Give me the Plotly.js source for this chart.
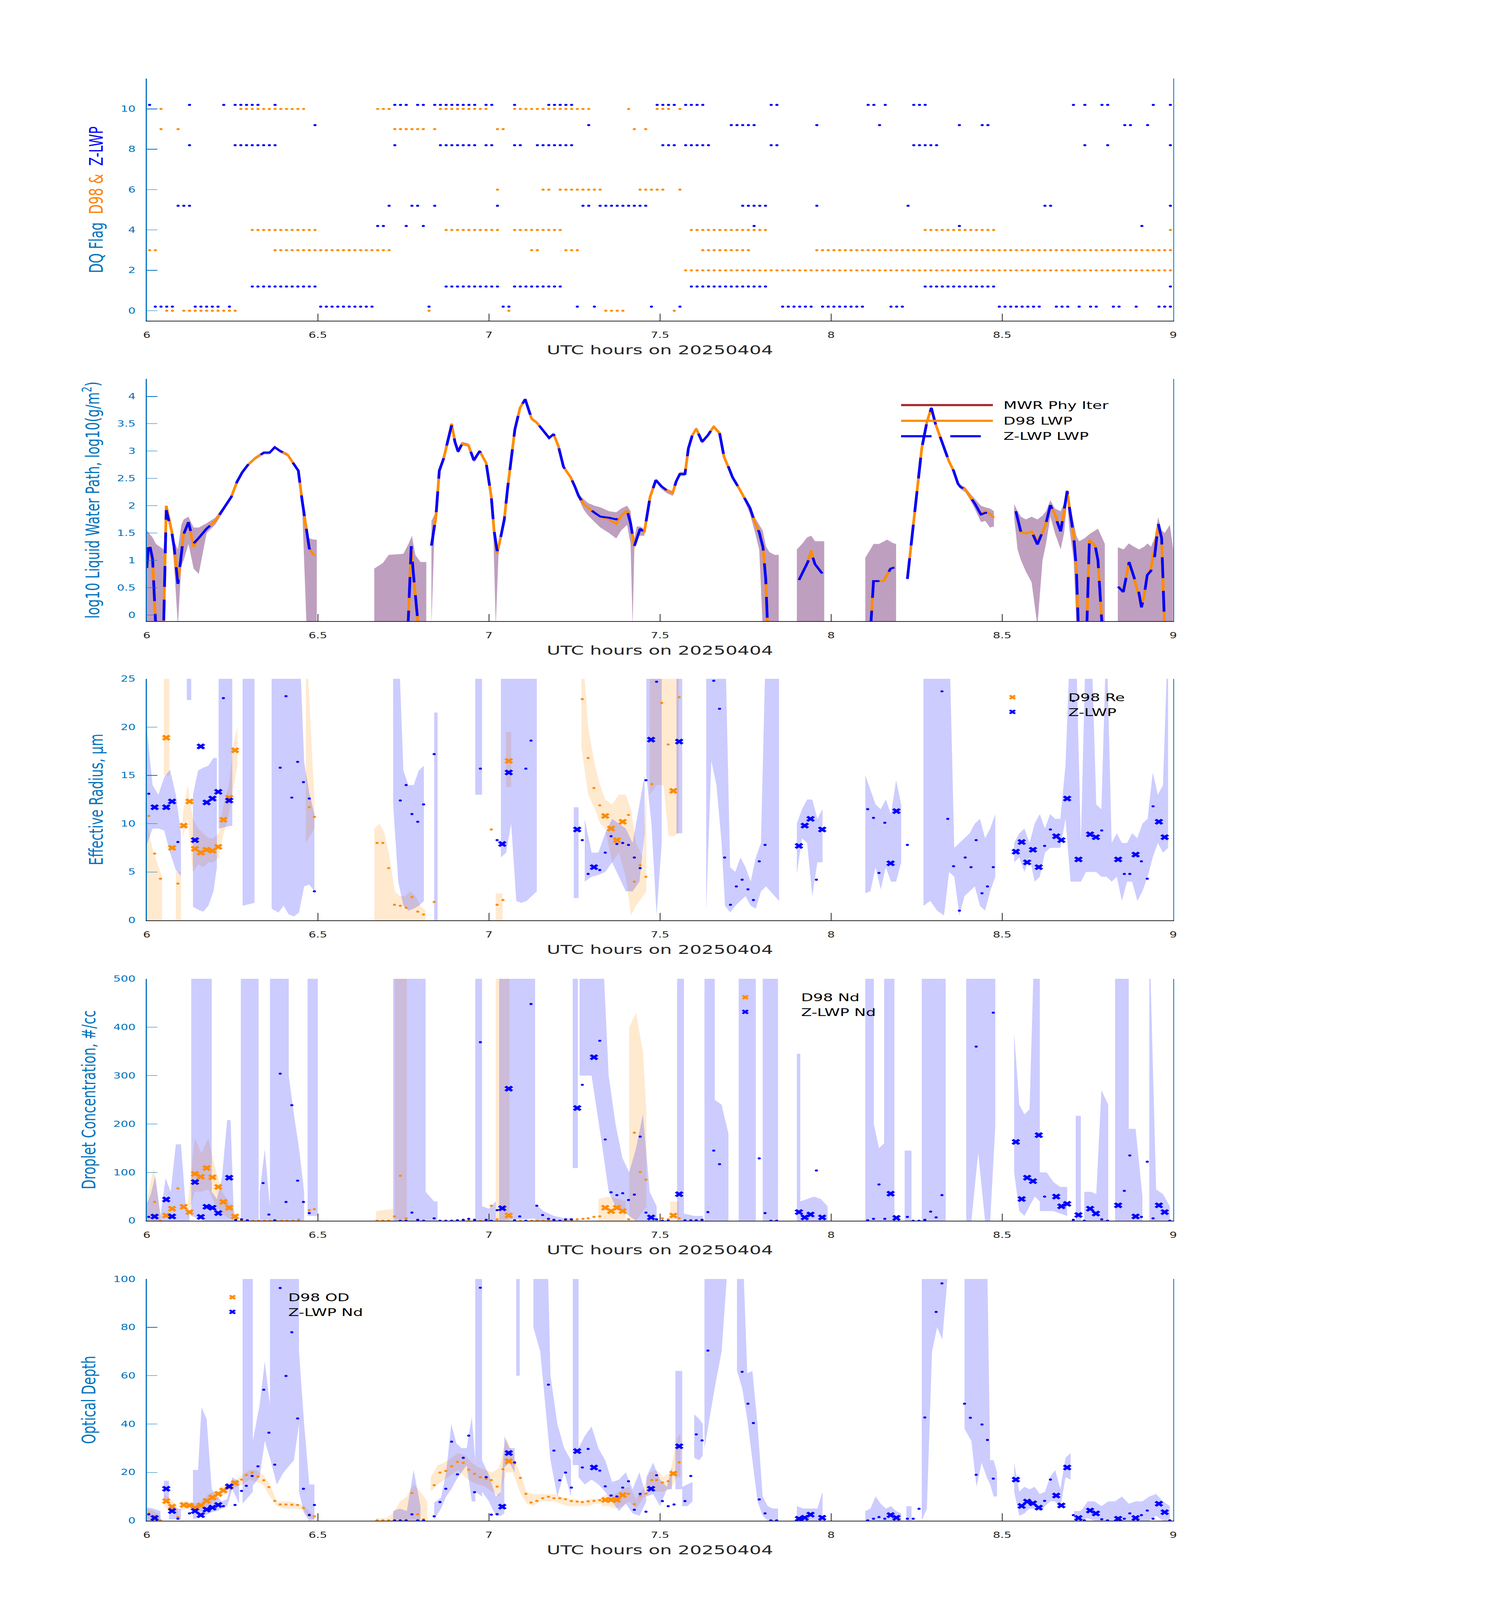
<!DOCTYPE html>
<html>
<head>
<meta charset="utf-8">
<script src="https://cdn.plot.ly/plotly-3.0.1.min.js"></script>
<style>
  html, body { margin: 0; padding: 0; background: #fff; overflow: hidden; }
  #chart { width: 3825px; height: 6000px; transform-origin: 0 0; }
</style>
</head>
<body>
<div id="chart"></div>
<script>
// ---- DQ flags: runs of one-minute samples (minute index after 06:00 UTC) ----
const d98Flag10 = [[2,2],[16,27],[40,42],[51,59],[64,77],[84,84],[89,91],[93,93]];
const d98Flag9  = [[2,2],[5,5],[43,48],[50,50],[61,62],[85,85],[87,87]];
const d98Flag6  = [[61,61],[69,70],[72,79],[86,90],[93,93]];
const d98Flag4  = [[18,29],[52,61],[64,72],[95,108],[136,148],[179,179]];
const d98Flag3  = [[0,1],[22,42],[67,68],[73,75],[97,105],[117,179]];
const d98Flag2  = [[94,179]];
const d98Flag0  = [[3,4],[6,15],[49,49],[63,63],[80,83],[92,92]];

const zFlag10 = [[0,0],[7,7],[13,13],[15,19],[22,22],[43,45],[47,48],[50,57],[59,60],[64,64],[70,74],[89,92],[94,97],[109,110],[126,127],[129,129],[134,136],[162,162],[164,164],[167,168],[176,176],[179,179]];
const zFlag9  = [[29,29],[77,77],[102,106],[117,117],[128,128],[142,142],[146,147],[171,172],[175,175]];
const zFlag8  = [[7,7],[15,22],[43,43],[51,57],[59,60],[64,65],[68,74],[90,92],[94,98],[109,110],[134,138],[164,164],[168,168],[179,179]];
const zFlag5  = [[5,7],[42,42],[46,47],[50,50],[61,61],[76,77],[79,87],[104,108],[117,117],[133,133],[157,158],[179,179]];
const zFlag4  = [[40,41],[45,45],[48,48],[106,106],[142,142],[174,174]];
const zFlag1  = [[18,29],[52,61],[64,72],[95,108],[136,148],[179,179]];
const zFlag0  = [[1,4],[8,12],[14,14],[30,39],[49,49],[62,63],[75,75],[78,78],[88,88],[93,93],[111,116],[118,125],[130,132],[149,156],[159,161],[163,163],[165,166],[169,170],[173,173],[177,178],[179,179]];

// ---- LWP, log10(g/m2): rows [hour, D98, Z-LWP]; null = gap ----
const lwpRows = [
  [6.0,0.86,0.86],[6.006,1.25,1.36],[6.017,1.03,1.03],[6.027,-0.3,-0.3],[6.049,-0.3,-0.3],[6.057,2.0,1.92],[6.074,1.5,1.48],[6.08,1.24,1.24],[6.091,0.57,0.57],[6.101,1.1,1.1],[6.108,1.5,1.48],[6.122,1.7,1.7],[6.137,1.25,1.31],[6.152,1.41,1.41],[6.175,1.58,1.58],[6.2,1.72,1.72],[6.222,1.92,1.92],[6.247,2.16,2.16],[6.264,2.44,2.44],[6.279,2.61,2.61],[6.296,2.75,2.75],[6.317,2.87,2.87],[6.342,2.97,2.97],[6.359,2.97,2.97],[6.374,3.07,3.07],[6.39,3.0,3.0],[6.412,2.93,2.93],[6.433,2.73,2.73],[6.443,2.64,2.64],[6.454,2.1,2.1],[6.467,1.51,1.51],[6.475,1.22,1.22],[6.49,1.08,1.1],
  null,
  [6.763,-0.3,-0.3],[6.773,1.26,1.26],[6.78,0.7,0.7],[6.795,-0.3,-0.3],
  null,
  [6.832,1.27,1.27],[6.845,1.79,1.79],[6.855,2.64,2.64],[6.868,2.87,2.87],[6.88,3.19,3.19],[6.891,3.5,3.47],[6.901,3.16,3.16],[6.91,2.99,2.99],[6.922,3.14,3.14],[6.94,3.11,3.11],[6.956,2.83,2.83],[6.973,3.0,3.0],[6.992,2.78,2.78],[7.007,2.16,2.16],[7.015,1.55,1.55],[7.024,1.13,1.17],[7.034,1.41,1.41],[7.045,1.75,1.75],[7.055,2.34,2.34],[7.066,2.95,2.95],[7.076,3.4,3.4],[7.091,3.79,3.79],[7.106,3.95,3.95],[7.117,3.74,3.74],[7.125,3.59,3.59],[7.14,3.52,3.52],[7.155,3.4,3.4],[7.176,3.24,3.24],[7.189,3.31,3.31],[7.203,3.09,3.09],[7.218,2.71,2.71],[7.239,2.52,2.52],[7.252,2.34,2.34],[7.262,2.18,2.18],[7.277,2.03,2.03],[7.29,1.96,1.96],[7.309,1.87,1.87],[7.326,1.8,1.8],[7.351,1.75,1.78],[7.372,1.67,1.75],[7.387,1.82,1.82],[7.404,1.91,1.91],[7.414,1.68,1.68],[7.425,1.26,1.26],[7.442,1.58,1.58],[7.454,1.51,1.51],[7.471,2.16,2.16],[7.488,2.47,2.47],[7.505,2.35,2.35],[7.52,2.28,2.28],[7.537,2.23,2.23],[7.547,2.44,2.44],[7.558,2.58,2.58],[7.573,2.58,2.58],[7.583,3.05,3.05],[7.594,3.28,3.28],[7.606,3.41,3.41],[7.623,3.17,3.17],[7.64,3.29,3.29],[7.657,3.45,3.45],[7.674,3.33,3.33],[7.687,2.9,2.9],[7.699,2.73,2.73],[7.712,2.52,2.52],[7.731,2.32,2.32],[7.746,2.15,2.15],[7.763,1.96,1.96],[7.776,1.72,1.72],[7.79,1.51,1.51],[7.801,1.24,1.24],[7.809,0.66,0.66],[7.815,-0.3,-0.3],
  null,
  [7.906,0.64,0.64],[7.921,0.83,0.83],[7.932,0.97,0.97],[7.942,1.18,1.14],[7.953,0.93,0.93],[7.963,0.85,0.85],[7.974,0.76,0.76],
  null,
  [8.115,-0.3,-0.3],[8.124,0.62,0.62],[8.153,0.62,0.62],[8.164,0.74,0.74],[8.174,0.85,0.85],[8.185,0.87,0.87],
  null,
  [8.223,0.66,0.66],[8.233,1.24,1.24],[8.244,1.89,1.89],[8.255,2.51,2.51],[8.265,3.05,3.05],[8.28,3.53,3.53],[8.293,3.79,3.79],[8.305,3.5,3.5],[8.32,3.23,3.23],[8.333,2.99,2.99],[8.344,2.82,2.82],[8.358,2.64,2.64],[8.371,2.4,2.4],[8.379,2.34,2.34],[8.392,2.3,2.3],[8.407,2.16,2.16],[8.421,2.03,2.03],[8.438,1.84,1.84],[8.451,1.9,1.87],[8.464,1.85,1.87],[8.476,1.78,1.79],
  null,
  [8.54,1.9,1.9],[8.555,1.52,1.51],[8.569,1.49,1.48],[8.586,1.53,1.53],[8.603,1.35,1.29],[8.618,1.51,1.51],[8.628,1.68,1.68],[8.641,2.0,2.01],[8.654,1.85,1.82],[8.671,1.55,1.53],[8.681,1.89,1.89],[8.69,2.27,2.27],[8.696,2.0,1.99],[8.709,1.45,1.45],[8.717,0.83,0.83],[8.723,-0.3,-0.3],
  null,
  [8.747,-0.3,-0.3],[8.755,1.38,1.38],[8.772,1.26,1.26],[8.78,1.0,1.0],[8.793,-0.3,-0.3],
  null,
  [8.839,0.52,0.52],[8.854,0.42,0.42],[8.871,0.98,0.97],[8.886,0.65,0.69],[8.899,0.38,0.43],[8.907,0.2,0.14],[8.914,0.32,0.32],[8.924,0.73,0.73],[8.935,0.85,0.81],[8.945,1.2,1.03],[8.956,1.62,1.67],[8.966,1.41,1.41],[8.975,-0.3,-0.3]
];

// LWP uncertainty envelope: rows [hour, low, high]
const lwpBand = [
  [6.0,-0.2,1.55],[6.006,-0.2,1.5],[6.017,-0.2,1.42],[6.027,-0.2,1.3],[6.049,-0.2,1.2],[6.057,1.85,2.0],[6.074,1.4,1.6],[6.08,0.9,1.35],[6.091,-0.2,1.2],[6.101,0.9,1.65],[6.108,1.0,1.75],[6.122,1.3,1.8],[6.137,0.85,1.6],[6.152,0.75,1.6],[6.175,1.5,1.68],[6.2,1.65,1.78],[6.222,1.87,1.96],[6.247,2.12,2.2],[6.264,2.4,2.47],[6.279,2.58,2.64],[6.296,2.72,2.78],[6.317,2.84,2.9],[6.342,2.94,3.0],[6.359,2.94,3.0],[6.374,3.04,3.1],[6.39,2.97,3.03],[6.412,2.9,2.96],[6.433,2.7,2.76],[6.443,2.6,2.67],[6.454,2.0,2.2],[6.467,-0.2,1.55],[6.475,-0.2,1.4],[6.49,-0.2,1.38],[6.497,-0.2,1.38],
  null,
  [6.665,-0.2,0.85],[6.69,-0.2,0.95],[6.707,-0.2,1.1],[6.75,-0.2,1.12],[6.765,-0.2,1.3],[6.775,-0.2,1.45],[6.785,-0.2,1.1],[6.8,-0.2,0.97],[6.817,-0.2,0.97],
  null,
  [6.832,-0.2,1.72],[6.842,1.72,1.85],[6.855,2.6,2.68],[6.88,3.16,3.22],[6.891,3.47,3.53],[6.901,3.12,3.2],[6.91,2.95,3.03],[6.922,3.1,3.17],[6.94,3.08,3.14],[6.956,2.79,2.87],[6.973,2.97,3.03],[6.992,2.74,2.82],[7.007,2.1,2.2],[7.013,1.45,1.6],[7.02,-0.2,1.3],[7.028,1.1,1.25],[7.034,1.37,1.45],[7.045,1.7,1.8],[7.055,2.3,2.38],[7.066,2.91,2.98],[7.076,3.37,3.43],[7.091,3.76,3.82],[7.106,3.92,3.97],[7.117,3.71,3.77],[7.125,3.56,3.62],[7.14,3.49,3.55],[7.155,3.37,3.43],[7.176,3.21,3.27],[7.189,3.28,3.34],[7.203,3.06,3.12],[7.218,2.68,2.74],[7.239,2.48,2.55],[7.252,2.3,2.37],[7.262,2.13,2.22],[7.277,1.93,2.12],[7.29,1.82,2.05],[7.309,1.7,2.0],[7.326,1.6,1.97],[7.351,1.5,1.9],[7.372,1.4,1.88],[7.387,1.55,1.95],[7.404,1.65,2.0],[7.414,1.3,1.9],[7.42,-0.2,1.55],[7.425,1.2,1.4],[7.432,1.45,1.62],[7.442,1.45,1.62],[7.454,1.45,1.58],[7.471,2.1,2.2],[7.488,2.43,2.5],[7.505,2.3,2.38],[7.52,2.23,2.31],[7.537,2.18,2.27],[7.547,2.4,2.48],[7.558,2.54,2.62],[7.573,2.54,2.62],[7.583,3.0,3.08],[7.594,3.24,3.31],[7.606,3.37,3.44],[7.623,3.13,3.2],[7.64,3.25,3.32],[7.657,3.41,3.48],[7.674,3.29,3.36],[7.687,2.86,2.93],[7.699,2.69,2.76],[7.712,2.48,2.55],[7.731,2.28,2.35],[7.746,2.1,2.18],[7.763,1.85,2.0],[7.776,1.55,1.8],[7.79,1.2,1.65],[7.8,-0.2,1.55],[7.81,-0.2,1.25],[7.82,-0.2,1.15],[7.835,-0.2,1.1],[7.847,-0.2,1.1],
  null,
  [7.9,-0.2,1.2],[7.915,-0.2,1.3],[7.93,-0.2,1.42],[7.942,-0.2,1.45],[7.953,-0.2,1.35],[7.965,-0.2,1.35],[7.98,-0.2,1.35],
  null,
  [8.1,-0.2,1.05],[8.115,-0.2,1.2],[8.124,-0.2,1.3],[8.14,-0.2,1.3],[8.164,-0.2,1.38],[8.18,-0.2,1.32],[8.19,-0.2,1.3],
  null,
  [8.223,0.6,0.72],[8.233,1.2,1.28],[8.244,1.85,1.93],[8.255,2.47,2.55],[8.265,3.01,3.09],[8.28,3.49,3.57],[8.293,3.75,3.82],[8.305,3.46,3.54],[8.32,3.19,3.27],[8.333,2.95,3.03],[8.344,2.78,2.86],[8.358,2.6,2.68],[8.371,2.36,2.44],[8.379,2.3,2.38],[8.392,2.25,2.34],[8.407,2.1,2.22],[8.421,1.93,2.12],[8.438,1.7,2.0],[8.451,1.72,1.97],[8.464,1.6,1.95],[8.476,1.62,1.9],
  null,
  [8.535,1.8,2.03],[8.545,1.2,1.9],[8.555,1.0,1.8],[8.569,0.8,1.75],[8.586,0.6,1.8],[8.603,-0.2,1.75],[8.618,1.0,1.82],[8.628,1.3,1.9],[8.641,1.8,2.1],[8.654,1.5,1.95],[8.671,1.2,1.9],[8.681,1.5,2.05],[8.69,2.1,2.3],[8.696,1.6,2.1],[8.709,1.0,1.7],[8.717,-0.2,1.45],[8.725,-0.2,1.35],[8.74,-0.2,1.4],[8.755,-0.2,1.48],[8.772,-0.2,1.55],[8.78,-0.2,1.58],[8.793,-0.2,1.4],[8.8,-0.2,1.3],
  null,
  [8.838,-0.2,1.24],[8.855,-0.2,1.2],[8.87,-0.2,1.31],[8.885,-0.2,1.25],[8.9,-0.2,1.2],[8.915,-0.2,1.25],[8.925,-0.2,1.31],[8.935,-0.2,1.25],[8.945,-0.2,1.4],[8.956,-0.2,1.79],[8.966,-0.2,1.55],[8.975,-0.2,1.5],[8.99,-0.2,1.65],[9.0,-0.2,1.2]
];

// ---- Retrievals flagged good (x markers): times shared by Re, Nd, OD ----
const zGoodT = [6.023,6.057,6.074,6.141,6.158,6.175,6.192,6.209,6.241,7.039,7.058,7.258,7.307,7.474,7.556,7.906,7.923,7.94,7.974,8.174,8.191,8.54,8.557,8.573,8.59,8.607,8.658,8.673,8.69,8.723,8.757,8.774,8.839,8.89,8.958,8.975];
const zGoodRe = [11.7,11.7,12.3,8.3,18.0,12.2,12.6,13.3,12.4,7.9,15.3,9.4,5.5,18.7,18.5,7.7,9.8,10.5,9.4,5.9,11.3,7.1,8.1,6.0,7.3,5.5,8.7,8.3,12.6,6.3,8.9,8.6,6.3,6.8,10.2,8.6];
const zGoodNd = [8.8,44,9,80,8,29,27,16,89,26,273,233,338,7,55,18,7,13,7,56,6,163,45,89,82,177,50,30,35,12,25,15,32,9,32,18];
const zGoodOd = [1.1,13.2,4.0,4.0,2.3,4.6,5.4,6.5,14.2,5.8,28.0,28.8,22.0,13.2,30.8,0.8,1.2,2.5,1.2,2.3,1.2,17.0,6.1,7.9,7.2,5.4,10.4,6.3,22.0,1.1,4.2,3.0,0.8,1.1,7.0,3.5];

const d98GoodT = [6.057,6.074,6.108,6.125,6.141,6.158,6.175,6.192,6.209,6.224,6.241,6.258,7.058,7.34,7.357,7.374,7.391,7.539];
const d98GoodRe = [18.9,7.5,9.8,12.3,7.4,7.0,7.3,7.2,7.6,10.4,12.7,17.6,16.5,10.8,9.5,8.3,10.2,13.4];
const d98GoodNd = [11,25,29,18,97,91,109,90,70,39,27,9,11,27,20,27,20,11];
const d98GoodOd = [8.1,5.8,6.5,6.3,5.4,6.3,8.2,9.6,11.1,12.5,13.9,15.6,24.6,8.6,8.6,8.6,10.6,19.5];

// ---- All other retrievals (small dots): rows [hour, value] ----
const reZDots = [[6.006,13.1],[6.091,8.1],[6.224,23.0],[6.39,15.8],[6.407,23.2],[6.424,12.7],[6.441,16.4],[6.458,14.3],[6.475,12.6],[6.49,3.0],[6.741,12.4],[6.758,14.0],[6.775,11.0],[6.792,10.2],[6.809,12.0],[6.84,17.2],[6.975,15.7],[7.024,8.3],[7.108,15.7],[7.123,18.6],[7.273,8.3],[7.29,4.8],[7.324,5.2],[7.34,7.0],[7.357,8.7],[7.374,7.9],[7.391,8.0],[7.408,7.8],[7.425,6.5],[7.442,5.4],[7.459,14.5],[7.49,24.7],[7.657,24.8],[7.674,21.9],[7.689,6.5],[7.706,1.6],[7.723,3.5],[7.74,4.2],[7.757,3.2],[7.773,2.1],[7.79,6.1],[7.807,7.8],[7.957,4.2],[8.107,11.5],[8.124,10.6],[8.14,4.9],[8.157,10.1],[8.223,7.8],[8.324,23.7],[8.341,10.5],[8.358,5.6],[8.375,1.0],[8.392,6.5],[8.409,5.5],[8.424,8.3],[8.441,2.8],[8.457,3.5],[8.474,5.5],[8.624,7.7],[8.641,9.4],[8.708,22.7],[8.791,9.3],[8.857,4.8],[8.873,4.8],[8.907,6.1],[8.924,4.3],[8.941,11.8]];
const reDDots = [[6.006,10.8],[6.023,6.9],[6.04,4.3],[6.091,3.8],[6.475,11.7],[6.49,10.7],[6.673,8.0],[6.69,8.0],[6.707,5.4],[6.724,1.6],[6.741,1.5],[6.758,1.3],[6.775,2.4],[6.792,0.9],[6.809,0.6],[6.84,1.9],[7.007,9.4],[7.024,1.6],[7.041,2.1],[7.273,22.9],[7.29,16.8],[7.307,13.7],[7.324,11.9],[7.408,10.9],[7.425,4.0],[7.442,5.7],[7.459,4.5],[7.476,14.1],[7.505,22.5],[7.524,18.2],[7.556,23.1]];

const ndZDots = [[6.006,8],[6.26,2],[6.277,3],[6.294,1],[6.34,78],[6.357,13],[6.374,1],[6.39,304],[6.407,39],[6.424,239],[6.441,83],[6.458,39],[6.475,16],[6.741,0],[6.758,0],[6.775,17],[6.792,2],[6.809,0],[6.84,5],[6.857,0],[6.874,0],[6.891,0],[6.908,1],[6.925,2],[6.941,4],[6.958,2],[6.975,369],[6.992,2],[7.007,0],[7.024,22],[7.075,1],[7.09,9],[7.108,0],[7.123,448],[7.14,31],[7.157,12],[7.174,4],[7.19,2],[7.207,0],[7.224,3],[7.241,3],[7.273,281],[7.324,372],[7.34,168],[7.357,59],[7.374,53],[7.391,57],[7.408,43],[7.425,54],[7.442,174],[7.459,17],[7.49,3],[7.507,0],[7.524,0],[7.573,1],[7.59,1],[7.606,1],[7.623,2],[7.64,18],[7.657,145],[7.674,117],[7.79,129],[7.807,16],[7.824,0],[7.841,0],[7.957,104],[8.107,1],[8.124,4],[8.14,75],[8.157,4],[8.223,8],[8.24,0],[8.257,0],[8.274,2],[8.291,19],[8.307,7],[8.324,53],[8.424,360],[8.474,430],[8.624,50],[8.708,2],[8.74,0],[8.791,3],[8.808,0],[8.857,62],[8.873,135],[8.907,8],[8.924,122],[8.941,5],[8.99,0]];
const ndDDots = [[6.023,39],[6.04,0],[6.091,67],[6.277,0],[6.294,0],[6.31,0],[6.327,0],[6.344,0],[6.36,0],[6.377,0],[6.394,0],[6.41,0],[6.427,0],[6.444,2],[6.475,22],[6.49,24],[6.673,0],[6.69,0],[6.707,0],[6.724,9],[6.741,93],[6.758,5],[6.857,0],[6.874,0],[6.891,0],[6.908,0],[6.925,0],[6.941,0],[6.958,0],[6.975,0],[6.992,0],[7.007,31],[7.024,3],[7.092,0],[7.108,0],[7.125,0],[7.142,0],[7.159,0],[7.175,0],[7.192,0],[7.209,0],[7.225,0],[7.242,2],[7.258,3],[7.275,4],[7.29,5],[7.307,8],[7.324,9],[7.408,3],[7.425,182],[7.442,101],[7.459,85],[7.507,5],[7.524,3],[7.556,5]];

const odZDots = [[6.006,2.6],[6.091,0.8],[6.125,3.0],[6.224,6.0],[6.258,6.5],[6.277,12.3],[6.291,14.4],[6.308,18.5],[6.325,22.5],[6.342,54.2],[6.357,36.4],[6.374,23.2],[6.39,96.3],[6.407,59.9],[6.424,78.0],[6.441,42.3],[6.458,13.2],[6.475,2.3],[6.49,6.5],[6.724,0.1],[6.741,0.1],[6.758,0.1],[6.775,2.6],[6.792,0.1],[6.809,0.1],[6.84,1.8],[6.857,7.7],[6.874,13.2],[6.891,32.7],[6.908,19.2],[6.925,26.0],[6.941,35.2],[6.958,11.8],[6.975,96.4],[6.992,18.0],[7.007,2.5],[7.024,2.7],[7.075,24.1],[7.174,56.3],[7.19,29.0],[7.207,16.7],[7.224,19.9],[7.241,13.7],[7.273,22.0],[7.29,29.7],[7.324,20.7],[7.34,14.2],[7.357,10.4],[7.374,10.0],[7.391,13.7],[7.408,16.3],[7.425,4.5],[7.442,11.1],[7.459,3.7],[7.49,18.8],[7.507,8.1],[7.524,6.0],[7.541,6.7],[7.573,8.1],[7.59,18.5],[7.606,35.7],[7.623,33.2],[7.64,70.4],[7.74,61.6],[7.757,48.4],[7.773,40.4],[7.79,8.8],[7.807,3.0],[7.824,0.1],[7.841,0.1],[8.107,0.1],[8.124,0.8],[8.14,1.5],[8.157,0.8],[8.223,0.8],[8.24,0.8],[8.257,4.9],[8.274,42.7],[8.307,86.4],[8.324,98.2],[8.39,48.4],[8.407,42.6],[8.424,19.0],[8.441,39.8],[8.457,33.4],[8.474,17.4],[8.624,8.2],[8.641,17.0],[8.708,2.3],[8.74,0.1],[8.791,0.6],[8.808,0.1],[8.857,0.8],[8.873,3.0],[8.907,2.3],[8.924,4.2],[8.941,0.8],[8.99,0.1]];
const odDDots = [[6.006,3.0],[6.023,1.9],[6.04,0.1],[6.091,1.5],[6.277,17.0],[6.291,18.9],[6.308,19.9],[6.325,18.2],[6.342,16.7],[6.357,13.9],[6.374,8.2],[6.39,6.7],[6.407,6.7],[6.424,6.6],[6.441,6.5],[6.458,5.3],[6.475,2.6],[6.49,1.8],[6.673,0.1],[6.69,0.1],[6.707,0.1],[6.724,0.1],[6.741,0.1],[6.758,0.1],[6.775,11.4],[6.792,2.6],[6.809,0.5],[6.84,14.7],[6.857,19.9],[6.874,20.6],[6.891,22.5],[6.908,24.3],[6.925,23.9],[6.941,21.1],[6.958,19.4],[6.975,18.0],[6.992,17.3],[7.007,16.8],[7.024,14.1],[7.041,21.3],[7.075,23.7],[7.092,17.7],[7.108,11.1],[7.123,7.5],[7.14,8.2],[7.157,9.3],[7.174,9.9],[7.19,9.3],[7.207,9.3],[7.224,8.9],[7.241,8.1],[7.258,7.9],[7.273,7.7],[7.29,8.0],[7.307,8.2],[7.324,8.5],[7.408,11.1],[7.425,6.8],[7.442,10.4],[7.459,11.2],[7.476,16.8],[7.49,16.8],[7.507,15.8],[7.524,16.3],[7.556,24.1]];

// ---- Uncertainty envelopes: rows [hour, low, high]; values above the axis top run off scale ----
const reZBand = [
  [6.0,7.8,20],[6.017,9.5,14],[6.034,9.5,13],[6.051,9.3,14.8],[6.068,7.0,15.6],[6.085,5.2,13.0],[6.1,4.6,9.0], null,
  [6.117,22.8,30],[6.13,22.8,30], null,
  [6.135,1.4,13.0],[6.15,1.1,15.5],[6.165,0.9,15.8],[6.18,1.5,16.0],[6.195,3.0,16.8],[6.205,5.5,16.8], null,
  [6.21,9.5,30],[6.25,9.8,30], null,
  [6.28,1.5,30],[6.315,1.8,30], null,
  [6.365,1.2,30],[6.385,0.8,30],[6.4,1.5,30],[6.415,0.6,30],[6.43,0.4,30],[6.445,0.8,30],[6.46,3.5,16.4],[6.475,3.7,13.2],[6.49,3.0,11.0], null,
  [6.72,12.0,30],[6.735,4.0,30],[6.75,1.5,15.5],[6.765,1.0,14.0],[6.78,1.2,14.0],[6.795,1.5,15.5],[6.81,2.0,16.0], null,
  [6.84,0,21.5],[6.85,0,21.5], null,
  [6.96,13.0,30],[6.98,13.0,30], null,
  [7.035,6.5,30],[7.05,7.0,30],[7.065,10.0,30],[7.08,2.0,30],[7.095,1.8,30],[7.11,2.0,30],[7.125,2.5,30],[7.14,3.0,30], null,
  [7.248,2.3,11.7],[7.262,2.3,11.7], null,
  [7.28,4.0,10.5],[7.3,4.5,7.0],[7.32,4.7,7.0],[7.34,5.0,9.0],[7.36,6.0,10.5],[7.38,4.5,10.0],[7.4,3.0,9.5],[7.42,3.0,8.0],[7.44,4.0,12.0],[7.455,9.0,15.0], null,
  [7.46,15,30],[7.475,10,30],[7.49,0.5,30],[7.505,8,30], null,
  [7.548,9.0,30],[7.565,9.0,30], null,
  [7.635,1.0,30],[7.65,16.5,30],[7.665,14,30],[7.68,8,30],[7.69,1.5,30],[7.705,0.8,5.5],[7.72,1.5,5.0],[7.735,2.0,6.5],[7.75,2.5,5.5],[7.765,1.5,4.0],[7.78,1.2,6.5],[7.795,3.0,8.0],[7.81,3.5,30],[7.848,2.0,30], null,
  [7.9,4.8,10.0],[7.915,8.5,11.5],[7.93,8.0,12.5],[7.945,2.5,12.5],[7.96,6.0,10.5],[7.975,6.0,11.5], null,
  [8.1,2.8,15.0],[8.115,3.0,13.5],[8.13,5.5,12.0],[8.145,3.2,11.5],[8.16,5.5,12.5],[8.175,4.0,11.0],[8.19,4.0,14.5],[8.205,6.0,12.0], null,
  [8.27,1.5,30],[8.29,2.0,30],[8.31,1.0,30],[8.33,0.5,30],[8.345,5.0,30],[8.36,4.5,7.5],[8.375,0.5,8.0],[8.39,2.5,8.5],[8.405,3.0,9.0],[8.42,3.5,10.0],[8.435,1.5,10.5],[8.45,1.0,8.5],[8.465,3.0,9.5],[8.48,4.5,11.0], null,
  [8.535,6.0,8.0],[8.55,6.5,9.0],[8.565,5.0,9.5],[8.58,6.5,8.0],[8.595,4.0,10.0],[8.61,4.5,11.0],[8.625,7.0,9.5],[8.64,7.5,11.0],[8.655,7.5,10.5],[8.67,7.5,10.5],[8.685,10.5,16.0],[8.7,4.0,30],[8.715,4.0,30],[8.73,4.0,8.0],[8.745,5.0,30],[8.76,5.0,30],[8.775,5.0,12.0],[8.79,4.5,11.5],[8.805,4.5,30],[8.82,4.0,8.0],[8.835,4.5,9.0],[8.85,2.0,8.0],[8.865,4.0,8.0],[8.88,4.0,9.0],[8.895,2.0,8.5],[8.91,3.0,10.0],[8.925,4.5,10.5],[8.94,6.5,15.3],[8.955,8.0,13.0],[8.97,7.0,14.0],[8.985,7.5,30]
];
const reDBand = [
  [6.0,0,10.5],[6.01,0,8.5],[6.02,0,7.0],[6.035,0,5.5],[6.045,0,4.5], null,
  [6.05,15,30],[6.066,15,30], null,
  [6.085,0,5.0],[6.1,0,5.0], null,
  [6.105,8.5,11.0],[6.12,10.5,14.0],[6.135,5.0,10.5],[6.15,5.8,9.5],[6.165,5.5,9.0],[6.18,6.0,8.5],[6.195,6.0,8.5],[6.21,6.5,9.0],[6.225,9.0,12.0],[6.24,11.0,14.0],[6.255,14.0,18.5],[6.265,16.0,20.0], null,
  [6.465,8.0,30],[6.49,9.5,12.5], null,
  [6.665,0,9.5],[6.68,0,10.0],[6.695,0,9.0],[6.71,0,6.5],[6.725,0,3.0],[6.74,0,2.5],[6.755,0,2.5],[6.77,0,3.0],[6.785,0,2.5],[6.8,0,1.5],[6.815,0,1.0], null,
  [7.02,0,2.8],[7.04,0,2.8], null,
  [7.05,13.8,19.5],[7.065,13.8,19.5], null,
  [7.27,18,30],[7.29,13,20],[7.31,11.5,16],[7.325,10,14],[7.34,9.5,12.5],[7.36,6,12],[7.38,7,13],[7.4,4.5,13],[7.415,0.5,11.5],[7.43,1.5,8],[7.45,2.5,6.5],[7.46,3,14], null,
  [7.47,13,30],[7.49,14,30],[7.51,14,30],[7.525,8.7,30],[7.54,8.7,30],[7.555,9,30]
];
const ndZBand = [
  [6.0,0,35],[6.012,0,55],[6.025,0,93],[6.04,0,10],[6.055,0,88],[6.07,0,60],[6.085,0,158],[6.1,0,158],[6.115,0,20],[6.125,0,15], null,
  [6.13,10,600],[6.15,5,600],[6.17,0,600],[6.19,0,600], null,
  [6.19,0,60],[6.205,0,45],[6.22,0,90],[6.235,0,208],[6.245,0,208],[6.255,0,10], null,
  [6.275,0,600],[6.327,0,600], null,
  [6.33,0,60],[6.345,0,148],[6.36,0,30], null,
  [6.36,0,600],[6.415,0,600], null,
  [6.415,0,300],[6.43,0,220],[6.445,0,150],[6.46,0,60], null,
  [6.47,10,600],[6.5,10,600], null,
  [6.72,0,600],[6.815,0,600], null,
  [6.815,0,60],[6.84,0,40],[6.85,0,40], null,
  [6.96,0,600],[6.98,0,600], null,
  [6.98,0,30],[7.0,0,25],[7.02,0,40], null,
  [7.03,0,600],[7.135,5,600], null,
  [7.135,0,35],[7.16,0,20],[7.19,0,10],[7.22,0,5],[7.245,0,5], null,
  [7.245,109,600],[7.26,109,600], null,
  [7.265,300,600],[7.3,300,600],[7.33,160,600], null,
  [7.33,160,600],[7.35,60,300],[7.37,30,200],[7.39,20,130],[7.41,10,100],[7.43,0,150],[7.45,0,220],[7.47,0,60],[7.49,0,30], null,
  [7.55,0,600],[7.57,0,600], null,
  [7.57,0,15],[7.6,0,10],[7.625,0,10], null,
  [7.63,0,600],[7.66,0,600], null,
  [7.66,0,250],[7.68,0,240],[7.7,0,180], null,
  [7.73,0,600],[7.78,0,600], null,
  [7.8,0,600],[7.845,0,600], null,
  [7.9,0,345],[7.91,0,345], null,
  [7.91,0,40],[7.93,0,45],[7.95,0,50],[7.97,0,45],[7.99,0,30], null,
  [8.1,0,600],[8.125,0,600], null,
  [8.125,0,200],[8.14,0,150],[8.155,0,160], null,
  [8.155,0,600],[8.185,0,600], null,
  [8.215,0,145],[8.235,0,145], null,
  [8.265,0,600],[8.335,0,600], null,
  [8.395,0,600],[8.41,0,600],[8.43,140,600],[8.45,0,600],[8.465,0,600],[8.48,197,600], null,
  [8.535,100,388],[8.55,20,240],[8.565,10,220],[8.58,30,230],[8.595,50,600],[8.61,40,600], null,
  [8.61,20,100],[8.63,20,100],[8.65,20,80],[8.67,15,70],[8.69,10,70], null,
  [8.715,0,217],[8.73,0,217], null,
  [8.74,0,60],[8.76,0,60],[8.775,0,55],[8.79,0,270],[8.81,0,240], null,
  [8.83,0,600],[8.87,0,600], null,
  [8.87,0,190],[8.89,0,190],[8.91,0,50], null,
  [8.93,0,600],[8.95,0,65],[8.97,0,55],[8.99,0,30]
];
const ndDBand = [
  [6.0,0,40],[6.02,0,110],[6.04,0,15], null,
  [6.12,5,35],[6.14,60,170],[6.16,60,140],[6.18,65,170],[6.2,35,110],[6.22,15,60],[6.24,5,40],[6.26,0,15], null,
  [6.67,0,20],[6.72,0,25], null,
  [6.725,0,600],[6.76,0,600], null,
  [7.02,0,600],[7.06,0,600], null,
  [7.32,0,45],[7.35,0,50],[7.38,0,45],[7.4,0,40], null,
  [7.41,0,400],[7.43,0,430],[7.45,20,350],[7.46,30,230], null,
  [7.53,0,40],[7.555,0,40]
];
const odZBand = [
  [6.0,0,5.5],[6.02,0,5.0],[6.04,0,4.0], null,
  [6.05,8,16.5],[6.065,8,16.5], null,
  [6.065,0.5,6],[6.085,0.5,5],[6.1,0.5,5], null,
  [6.135,0.8,21],[6.15,1.0,21],[6.16,1.5,47],[6.175,2.5,42],[6.19,3.5,13],[6.205,4.0,10],[6.22,5.0,8],[6.235,6.0,9],[6.25,13.0,18],[6.27,7.0,16], null,
  [6.28,7,120],[6.31,12,120], null,
  [6.31,14.5,33],[6.33,18,48],[6.345,33,66],[6.36,26,48], null,
  [6.36,26,120],[6.38,15,120],[6.4,20,120],[6.43,25,120],[6.445,40,120], null,
  [6.445,12,70],[6.46,3,40],[6.475,0,15],[6.49,0.5,15], null,
  [6.72,0,4],[6.74,0,5],[6.76,0,4],[6.78,0,21],[6.8,0,6], null,
  [6.84,0.5,7.5],[6.86,5,9.5],[6.875,10,20],[6.89,13,40],[6.905,17,32],[6.92,20,30],[6.935,23,30],[6.95,8,43],[6.96,8,25], null,
  [6.96,12,120],[6.98,10,120], null,
  [6.98,12,25],[7.0,8,19],[7.02,2,10],[7.035,2,12],[7.045,3,32], null,
  [7.045,22,35],[7.06,24,30],[7.075,20,30], null,
  [7.08,60,120],[7.09,60,120], null,
  [7.13,80,120],[7.15,70,120],[7.17,40,120],[7.18,25,60],[7.2,10,40],[7.22,20,30],[7.24,10,25], null,
  [7.245,23,120],[7.262,23,120], null,
  [7.262,18,30],[7.28,15,35],[7.3,17,39],[7.32,15,30],[7.34,12,25],[7.36,8,16],[7.38,4,17],[7.4,7,20],[7.42,3,13],[7.44,2,20],[7.46,8,10], null,
  [7.46,10,18],[7.48,11,24],[7.5,6,17],[7.52,13,14],[7.535,13,22], null,
  [7.545,13,62],[7.565,13,62], null,
  [7.565,6,14],[7.58,6,15],[7.595,8,16], null,
  [7.6,26,44],[7.615,25,42],[7.625,27,40], null,
  [7.63,30,120],[7.66,55,120],[7.68,70,120],[7.695,100,120], null,
  [7.725,62,120],[7.74,55,120],[7.755,42,61],[7.77,25,62],[7.785,8,40],[7.8,2,10],[7.815,0,6],[7.83,0,5],[7.845,0,5], null,
  [7.9,0,6],[7.92,0,5],[7.94,0,5],[7.96,0,5],[7.975,0,12], null,
  [8.1,0,4],[8.115,0,5],[8.13,0,10],[8.145,0,7],[8.16,0,5],[8.175,0,6],[8.19,0,4],[8.205,0,3], null,
  [8.22,0,6],[8.235,0,6], null,
  [8.265,0,120],[8.28,5,120],[8.295,70,120],[8.31,80,120],[8.325,75,120],[8.34,100,120], null,
  [8.39,38,120],[8.41,33,120],[8.425,14,120],[8.44,24,120],[8.455,18,120],[8.465,15,25],[8.475,10,25],[8.485,10,20], null,
  [8.535,12,24],[8.55,2,12],[8.565,3,14],[8.58,5,13],[8.595,5,14],[8.61,4,11],[8.625,6,12],[8.64,8,18],[8.655,8,21],[8.67,5,13],[8.685,18,26],[8.7,17,28], null,
  [8.71,0,4],[8.73,0,4],[8.75,1,8],[8.77,0,8],[8.79,0,6],[8.81,0,8],[8.83,0,8],[8.85,0,10],[8.87,0,7],[8.89,0,8],[8.91,0,8],[8.93,0,10],[8.95,2,11],[8.97,0,8],[8.99,0,6]
];
const odDBand = [
  [6.0,0,5],[6.02,0,4],[6.04,0,2], null,
  [6.05,6,11],[6.07,4,9],[6.09,2,6], null,
  [6.1,4,8],[6.12,5,8],[6.14,4,7],[6.16,4,8],[6.18,6,11],[6.2,8,12],[6.22,10,14],[6.24,12,16],[6.26,14,17],[6.28,15,19],[6.3,17,21],[6.32,16,21],[6.34,15,19],[6.36,10,15],[6.38,6,8],[6.4,5,8],[6.42,5,8],[6.44,5,7],[6.46,4,6],[6.48,1,3],[6.49,0,2], null,
  [6.67,0,1],[6.7,0,1],[6.72,0,3],[6.74,0,8],[6.76,0,10],[6.78,0,15],[6.8,0,12],[6.82,0,8], null,
  [6.83,12,18],[6.85,15,23],[6.87,17,24],[6.89,19,26],[6.91,21,28],[6.93,18,27],[6.95,16,24],[6.97,15,22],[6.99,14,21],[7.01,12,20],[7.03,10,22],[7.05,20,34],[7.07,20,28],[7.09,12,20],[7.11,7,12],[7.13,6,11],[7.15,8,11],[7.17,8,11],[7.19,8,11],[7.21,7,10],[7.23,6,9],[7.25,6,9],[7.27,6,8],[7.29,6,9],[7.31,7,9],[7.33,7,9], null,
  [7.33,6,10],[7.35,6,11],[7.37,5,11],[7.39,6,13],[7.41,8,14],[7.43,5,9],[7.45,9,13],[7.47,12,20],[7.49,12,21],[7.51,12,18],[7.53,13,20],[7.55,18,34],[7.56,18,36]
];

// ---- labels ----
const hourTicks = [6, 6.5, 7, 7.5, 8, 8.5, 9];
const hourLabels = ['6', '6.5', '7', '7.5', '8', '8.5', '9'];
const xTitle = 'UTC hours on 20250404';

const ORANGE = '#FF8C00';
const BLUE = '#0000FF';
const AXBLUE = '#0072BD';

// ---- helpers ----
function flagPoints(rows, lift) {
  const x = [], y = [];
  rows.forEach(([value, runs]) => runs.forEach(([a, b]) => {
    for (let k = a; k <= b; k++) { x.push(6 + (k + 0.5) / 60); y.push(value + lift); }
  }));
  return { x, y };
}

function band(rows, n, color) {
  const x = [], y = [];
  let seg = [];
  const flush = () => {
    if (!seg.length) return;
    seg.forEach(r => { x.push(r[0]); y.push(r[2]); });
    seg.slice().reverse().forEach(r => { x.push(r[0]); y.push(r[1]); });
    x.push(null); y.push(null);
    seg = [];
  };
  rows.forEach(r => { if (r === null) flush(); else seg.push(r); });
  flush();
  return {
    type: 'scatter', mode: 'lines', x, y, xaxis: 'x' + n, yaxis: 'y' + n,
    fill: 'toself', fillcolor: color, line: { width: 0 }, hoverinfo: 'skip', showlegend: false
  };
}

function dots(rows, n, color) {
  return {
    type: 'scatter', mode: 'markers', x: rows.map(r => r[0]), y: rows.map(r => r[1]),
    xaxis: 'x' + n, yaxis: 'y' + n, marker: { color, size: 8 }, showlegend: false
  };
}

function crosses(t, v, n, color, name, legend) {
  return {
    type: 'scatter', mode: 'markers', x: t, y: v, name, legend,
    xaxis: 'x' + n, yaxis: 'y' + n,
    marker: { color, size: 20, symbol: 'x', line: { width: 0 } }
  };
}

// ---- traces ----
const d98Flags = flagPoints([[10, d98Flag10], [9, d98Flag9], [6, d98Flag6], [4, d98Flag4], [3, d98Flag3], [2, d98Flag2], [0, d98Flag0]], 0);
const zFlags = flagPoints([[10, zFlag10], [9, zFlag9], [8, zFlag8], [5, zFlag5], [4, zFlag4], [1, zFlag1], [0, zFlag0]], 0.2);

const traces = [
  { type: 'scatter', mode: 'markers', x: d98Flags.x, y: d98Flags.y, xaxis: 'x', yaxis: 'y',
    marker: { color: ORANGE, size: 8 }, showlegend: false },
  { type: 'scatter', mode: 'markers', x: zFlags.x, y: zFlags.y, xaxis: 'x', yaxis: 'y',
    marker: { color: BLUE, size: 8 }, showlegend: false },

  band(lwpBand, 2, 'rgba(128,64,128,0.5)'),
  { type: 'scatter', mode: 'lines', x: lwpRows.map(r => r && r[0]), y: lwpRows.map(r => r && r[1]),
    xaxis: 'x2', yaxis: 'y2', line: { color: ORANGE, width: 7 }, showlegend: false },
  { type: 'scatter', mode: 'lines', x: lwpRows.map(r => r && r[0]), y: lwpRows.map(r => r && r[2]),
    xaxis: 'x2', yaxis: 'y2', line: { color: BLUE, width: 7, dash: '78px,48px' }, showlegend: false },

  band(reDBand, 3, 'rgba(255,160,40,0.22)'),
  band(reZBand, 3, 'rgba(0,0,255,0.2)'),
  dots(reDDots, 3, ORANGE),
  dots(reZDots, 3, BLUE),
  crosses(d98GoodT, d98GoodRe, 3, ORANGE, 'D98 Re', 'legend'),
  crosses(zGoodT, zGoodRe, 3, BLUE, 'Z-LWP', 'legend'),

  band(ndDBand, 4, 'rgba(255,160,40,0.22)'),
  band(ndZBand, 4, 'rgba(0,0,255,0.2)'),
  dots(ndDDots, 4, ORANGE),
  dots(ndZDots, 4, BLUE),
  crosses(d98GoodT, d98GoodNd, 4, ORANGE, 'D98 Nd', 'legend2'),
  crosses(zGoodT, zGoodNd, 4, BLUE, 'Z-LWP Nd', 'legend2'),

  band(odDBand, 5, 'rgba(255,160,40,0.22)'),
  band(odZBand, 5, 'rgba(0,0,255,0.2)'),
  dots(odDDots, 5, ORANGE),
  dots(odZDots, 5, BLUE),
  crosses(d98GoodT, d98GoodOd, 5, ORANGE, 'D98 OD', 'legend3'),
  crosses(zGoodT, zGoodOd, 5, BLUE, 'Z-LWP Nd', 'legend3')
];

// ---- layout, laid out at the 3825 x 6000 design size ----
const W = 3825, H = 6000;
const domX = [375.7 / W, 3003.8 / W];
const panels = [
  { top: 295,    bottom: 1203,   range: [-0.5, 11.5],   ticks: [0, 2, 4, 6, 8, 10] },
  { top: 1421,   bottom: 2329.5, range: [-0.113, 4.32], ticks: [0, 0.5, 1, 1.5, 2, 2.5, 3, 3.5, 4] },
  { top: 2545.5, bottom: 3451,   range: [0, 25],        ticks: [0, 5, 10, 15, 20, 25] },
  { top: 3670.6, bottom: 4578,   range: [0, 500],       ticks: [0, 100, 200, 300, 400, 500] },
  { top: 4796.4, bottom: 5702.5, range: [0, 100],       ticks: [0, 20, 40, 60, 80, 100] }
];
const yTitles = [
  'DQ Flag&nbsp;&nbsp;<span style="color:#FF8000">D98 &amp;</span>&nbsp;&nbsp;<span style="color:#0000FF">Z-LWP</span>',
  'log10 Liquid Water Path, log10(g/m<sup>2</sup>)',
  'Effective Radius, \u03bcm',
  'Droplet Concentration, #/cc',
  'Optical Depth'
];

const layout = {
  width: W, height: H,
  margin: { l: 0, r: 0, t: 0, b: 0 },
  paper_bgcolor: '#ffffff', plot_bgcolor: '#ffffff',
  font: { family: 'DejaVu Sans', size: 30, color: '#000' },
  showlegend: true,
  shapes: [], annotations: []
};

panels.forEach((p, i) => {
  const s = i === 0 ? '' : String(i + 1);
  layout['xaxis' + s] = {
    domain: domX, anchor: 'y' + s, range: [6, 9],
    tickvals: hourTicks, ticktext: hourLabels,
    ticks: 'inside', ticklen: 27, tickwidth: 2, tickcolor: '#262626',
    showline: true, linecolor: '#262626', linewidth: 2.5, mirror: false,
    showgrid: false, zeroline: false, ticklabelstandoff: 26,
    tickfont: { size: 30, color: '#262626' },
    title: { text: xTitle, font: { size: 48, color: '#262626' }, standoff: 22 }
  };
  layout['yaxis' + s] = {
    domain: [1 - p.bottom / H, 1 - p.top / H], anchor: 'x' + s, range: p.range,
    tickvals: p.ticks,
    ticks: 'inside', ticklen: 27, tickwidth: 2, tickcolor: AXBLUE,
    showline: true, linecolor: AXBLUE, linewidth: 2.5, mirror: true,
    showgrid: false, zeroline: false, ticklabelstandoff: 20,
    tickfont: { size: 30, color: AXBLUE },
    title: { text: yTitles[i], font: { size: 48, color: AXBLUE }, standoff: 30 }
  };
});

// marker legends for the three retrieval panels
const legendBase = {
  xanchor: 'left', yanchor: 'top', bgcolor: 'rgba(0,0,0,0)', borderwidth: 0,
  font: { size: 40, color: '#000' }, itemwidth: 276, tracegroupgap: 0
};
layout.legend  = Object.assign({}, legendBase, { x: 2449 / W, y: 1 - 2582 / H });
layout.legend2 = Object.assign({}, legendBase, { x: 1765 / W, y: 1 - 3707 / H });
layout.legend3 = Object.assign({}, legendBase, { x: 452 / W, y: 1 - 4832 / H });

// line legend for the LWP panel
const lwpLegend = [
  { name: 'MWR Phy Iter', color: '#A52A2A', dash: 'solid', y: 1519 },
  { name: 'D98 LWP', color: ORANGE, dash: 'solid', y: 1578 },
  { name: 'Z-LWP LWP', color: BLUE, dash: '78px,48px', y: 1636 }
];
lwpLegend.forEach(e => {
  layout.shapes.push({
    type: 'line', xref: 'paper', yref: 'paper',
    x0: 2307 / W, x1: 2542 / W, y0: 1 - e.y / H, y1: 1 - e.y / H,
    line: { color: e.color, width: 8, dash: e.dash }
  });
  layout.annotations.push({
    xref: 'paper', yref: 'paper', x: 2567 / W, y: 1 - e.y / H,
    xanchor: 'left', yanchor: 'middle', showarrow: false,
    text: e.name, font: { size: 40, color: '#000' }
  });
});

// the window can be shorter than the design size: squeeze the whole figure to fit it
const chart = document.getElementById('chart');
const sx = Math.min(1, (window.innerWidth || W) / W);
const sy = Math.min(1, (window.innerHeight || H) / H);
chart.style.transform = 'scale(' + sx + ',' + sy + ')';

Plotly.newPlot('chart', traces, layout, { displayModeBar: false, staticPlot: true });
</script>
</body>
</html>
